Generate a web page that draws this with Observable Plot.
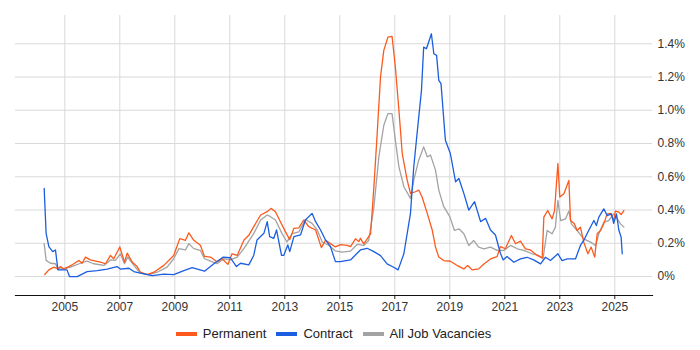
<!DOCTYPE html>
<html>
<head>
<meta charset="utf-8">
<script src="https://cdn.jsdelivr.net/npm/d3@7"></script>
<script src="https://cdn.jsdelivr.net/npm/@observablehq/plot@0.6"></script>
<style>
  body { margin: 0; background: #fff; font-family: "Liberation Sans", Arial, sans-serif; }
  #wrap { width: 700px; }
  #chart svg { display: block; }
  #legend { display: flex; justify-content: center; align-items: center; gap: 10px; margin-top: 8px; padding-left: 15px; padding-right: 48px; font-size: 13px; color: #222; }
  .item { display: flex; align-items: center; gap: 6px; }
  .sw { width: 21px; height: 4px; display: inline-block; }
</style>
</head>
<body>
<div id="wrap"><div id="chart"></div><div id="legend"></div></div>
<script>
// Series names and colours
const seriesNames = ["Permanent", "Contract", "All Job Vacancies"];
const seriesColors = ["#fb5a1c", "#1b5ee0", "#a3a3a3"];

// Tick values
const yearTicks = [2005, 2007, 2009, 2011, 2013, 2015, 2017, 2019, 2021, 2023, 2025];
const pctTicks = [0, 0.2, 0.4, 0.6, 0.8, 1.0, 1.2, 1.4];

// Permanent: decimal years and % values
const permYears = [2004.27,2004.42,2004.6,2004.75,2004.84,2004.96,2005.15,2005.33,2005.51,2005.63,2005.75,2005.93,2006.12,2006.3,2006.48,2006.66,2006.78,2007.0,2007.17,2007.27,2007.45,2007.63,2007.75,2007.99,2008.24,2008.6,2008.96,2009.18,2009.39,2009.51,2009.69,2009.93,2010.08,2010.3,2010.54,2010.72,2010.93,2011.08,2011.27,2011.51,2011.69,2011.87,2012.12,2012.36,2012.5,2012.66,2012.84,2013.02,2013.18,2013.33,2013.51,2013.69,2013.87,2014.12,2014.33,2014.48,2014.66,2014.84,2015.02,2015.27,2015.39,2015.57,2015.69,2015.75,2015.87,2016.02,2016.12,2016.24,2016.36,2016.48,2016.6,2016.75,2016.9,2017.02,2017.15,2017.27,2017.45,2017.57,2017.75,2017.87,2017.99,2018.18,2018.36,2018.48,2018.6,2018.78,2019.02,2019.27,2019.51,2019.65,2019.81,2020.05,2020.24,2020.48,2020.72,2020.84,2021.02,2021.24,2021.39,2021.57,2021.75,2021.93,2022.18,2022.36,2022.42,2022.56,2022.72,2022.81,2022.93,2023.0,2023.15,2023.33,2023.39,2023.53,2023.63,2023.75,2023.87,2024.02,2024.14,2024.27,2024.36,2024.48,2024.6,2024.72,2024.84,2024.96,2025.02,2025.15,2025.23,2025.33];
const permValues = [0.012,0.04,0.057,0.046,0.06,0.046,0.06,0.077,0.097,0.08,0.117,0.1,0.093,0.087,0.077,0.127,0.107,0.178,0.087,0.141,0.087,0.06,0.026,0.012,0.026,0.067,0.127,0.228,0.218,0.263,0.218,0.188,0.121,0.117,0.087,0.107,0.073,0.137,0.127,0.218,0.248,0.3,0.37,0.39,0.41,0.39,0.33,0.27,0.222,0.29,0.293,0.34,0.3,0.28,0.174,0.218,0.198,0.178,0.192,0.188,0.18,0.227,0.21,0.23,0.197,0.233,0.257,0.54,0.86,1.2,1.36,1.44,1.445,1.26,1.0,0.74,0.58,0.5,0.51,0.52,0.48,0.38,0.28,0.177,0.117,0.096,0.092,0.066,0.046,0.066,0.04,0.046,0.076,0.106,0.12,0.18,0.167,0.247,0.197,0.213,0.167,0.16,0.127,0.112,0.357,0.397,0.347,0.397,0.68,0.478,0.498,0.578,0.337,0.317,0.277,0.297,0.207,0.137,0.177,0.117,0.257,0.277,0.317,0.377,0.38,0.337,0.393,0.387,0.373,0.397];

// Contract
const contYears = [2004.25,2004.32,2004.42,2004.56,2004.66,2004.75,2005.08,2005.17,2005.45,2005.81,2006.18,2006.54,2006.9,2007.02,2007.33,2007.51,2007.75,2008.18,2008.6,2008.96,2009.33,2009.63,2010.08,2010.42,2010.76,2011.02,2011.24,2011.39,2011.69,2011.87,2011.99,2012.24,2012.36,2012.45,2012.6,2012.7,2012.88,2012.96,2013.11,2013.18,2013.33,2013.57,2013.75,2013.99,2014.12,2014.3,2014.48,2014.66,2014.84,2015.02,2015.39,2015.63,2015.75,2015.99,2016.24,2016.48,2016.72,2016.96,2017.12,2017.33,2017.57,2017.69,2017.81,2017.97,2018.05,2018.15,2018.25,2018.33,2018.42,2018.52,2018.6,2018.68,2018.84,2019.02,2019.21,2019.33,2019.51,2019.69,2019.9,2020.12,2020.3,2020.48,2020.66,2020.84,2020.94,2021.08,2021.33,2021.57,2021.81,2022.05,2022.3,2022.48,2022.66,2022.93,2023.08,2023.27,2023.57,2023.75,2023.87,2024.05,2024.24,2024.33,2024.42,2024.6,2024.72,2024.88,2024.96,2025.06,2025.15,2025.23,2025.27];
const contValues = [0.53,0.26,0.18,0.15,0.16,0.04,0.04,0.0,0.0,0.03,0.035,0.045,0.06,0.045,0.05,0.03,0.02,0.005,0.015,0.012,0.036,0.053,0.032,0.077,0.117,0.113,0.06,0.08,0.07,0.127,0.22,0.26,0.33,0.24,0.23,0.28,0.127,0.127,0.19,0.15,0.24,0.25,0.34,0.38,0.33,0.28,0.22,0.18,0.09,0.09,0.1,0.14,0.16,0.17,0.15,0.126,0.076,0.056,0.04,0.137,0.38,0.66,0.86,1.12,1.38,1.37,1.42,1.46,1.34,1.33,1.18,1.16,0.82,0.74,0.57,0.59,0.5,0.4,0.45,0.33,0.35,0.28,0.25,0.14,0.1,0.12,0.086,0.106,0.116,0.1,0.076,0.116,0.096,0.137,0.096,0.106,0.106,0.187,0.217,0.277,0.337,0.307,0.357,0.407,0.367,0.377,0.32,0.377,0.277,0.237,0.137];

// All Job Vacancies
const allYears = [2004.25,2004.32,2004.48,2004.66,2004.75,2004.96,2005.21,2005.57,2005.81,2006.05,2006.42,2006.66,2006.84,2007.02,2007.17,2007.29,2007.51,2007.75,2008.05,2008.36,2008.72,2008.96,2009.15,2009.39,2009.51,2009.69,2009.93,2010.08,2010.3,2010.54,2010.78,2011.02,2011.27,2011.51,2011.87,2012.12,2012.36,2012.48,2012.66,2012.9,2013.08,2013.27,2013.51,2013.75,2013.99,2014.18,2014.36,2014.6,2014.84,2015.08,2015.39,2015.63,2015.87,2016.05,2016.24,2016.42,2016.6,2016.75,2016.9,2017.02,2017.15,2017.33,2017.57,2017.69,2017.87,2018.05,2018.18,2018.3,2018.48,2018.6,2018.78,2019.0,2019.17,2019.33,2019.51,2019.69,2019.87,2020.05,2020.24,2020.48,2020.72,2020.96,2021.21,2021.45,2021.69,2021.99,2022.24,2022.39,2022.54,2022.72,2022.84,2022.93,2023.03,2023.21,2023.33,2023.42,2023.63,2023.87,2024.12,2024.3,2024.42,2024.6,2024.78,2024.96,2025.09,2025.21,2025.33];
const allValues = [0.198,0.097,0.08,0.077,0.046,0.046,0.057,0.08,0.093,0.077,0.067,0.1,0.097,0.137,0.077,0.117,0.067,0.02,0.012,0.026,0.057,0.107,0.168,0.16,0.198,0.168,0.158,0.107,0.093,0.077,0.107,0.1,0.117,0.168,0.258,0.34,0.37,0.36,0.34,0.258,0.208,0.258,0.268,0.343,0.32,0.28,0.208,0.188,0.154,0.147,0.153,0.193,0.187,0.217,0.418,0.72,0.91,0.98,0.98,0.82,0.66,0.54,0.47,0.58,0.7,0.78,0.72,0.73,0.64,0.52,0.42,0.36,0.277,0.287,0.257,0.187,0.217,0.177,0.167,0.177,0.157,0.157,0.187,0.167,0.157,0.137,0.127,0.107,0.277,0.257,0.297,0.458,0.337,0.347,0.394,0.317,0.277,0.227,0.207,0.187,0.257,0.327,0.337,0.377,0.347,0.317,0.297];

const toRows = (ys, vs, s) => ys.map((y, i) => ({ t: y, v: vs[i], s }));
const perm = toRows(permYears, permValues, seriesNames[0]);
const cont = toRows(contYears, contValues, seriesNames[1]);
const all = toRows(allYears, allValues, seriesNames[2]);

const fmtPct = d => d === 0 ? "0%" : d.toFixed(1) + "%";

const chart = Plot.plot({
  width: 700,
  height: 318,
  marginLeft: 15,
  marginRight: 48,
  marginTop: 15,
  marginBottom: 23,
  style: { fontFamily: '"Liberation Sans", Arial, sans-serif', fontSize: "12px", color: "#333", background: "#fff" },
  x: { type: "linear", domain: [2003.207, 2026.371], label: null },
  y: { domain: [-0.114, 1.57], label: null },
  marks: [
    Plot.gridX(yearTicks, { stroke: "#d9d9d9", strokeOpacity: 1 }),
    Plot.gridY(pctTicks, { stroke: "#d9d9d9", strokeOpacity: 1 }),
    Plot.axisX(yearTicks, { tickSize: 4, tickPadding: 3, tickFormat: d => String(d), fill: "#333", stroke: "#222" }),
    Plot.axisY(pctTicks, { anchor: "right", tickSize: 0, tickPadding: 5, tickFormat: fmtPct, fill: "#333" }),
    Plot.frame({ anchor: "bottom", stroke: "#111", strokeWidth: 1.2 }),
    Plot.line(all, { x: "t", y: "v", stroke: seriesColors[2], strokeWidth: 1.3 }),
    Plot.line(perm, { x: "t", y: "v", stroke: seriesColors[0], strokeWidth: 1.3 }),
    Plot.line(cont, { x: "t", y: "v", stroke: seriesColors[1], strokeWidth: 1.3 })
  ]
});
document.getElementById("chart").appendChild(chart);

const legend = document.getElementById("legend");
seriesNames.forEach((n, i) => {
  const it = document.createElement("span");
  it.className = "item";
  const sw = document.createElement("span");
  sw.className = "sw";
  sw.style.background = seriesColors[i];
  it.appendChild(sw);
  it.appendChild(document.createTextNode(n));
  legend.appendChild(it);
});
</script>
</body>
</html>
